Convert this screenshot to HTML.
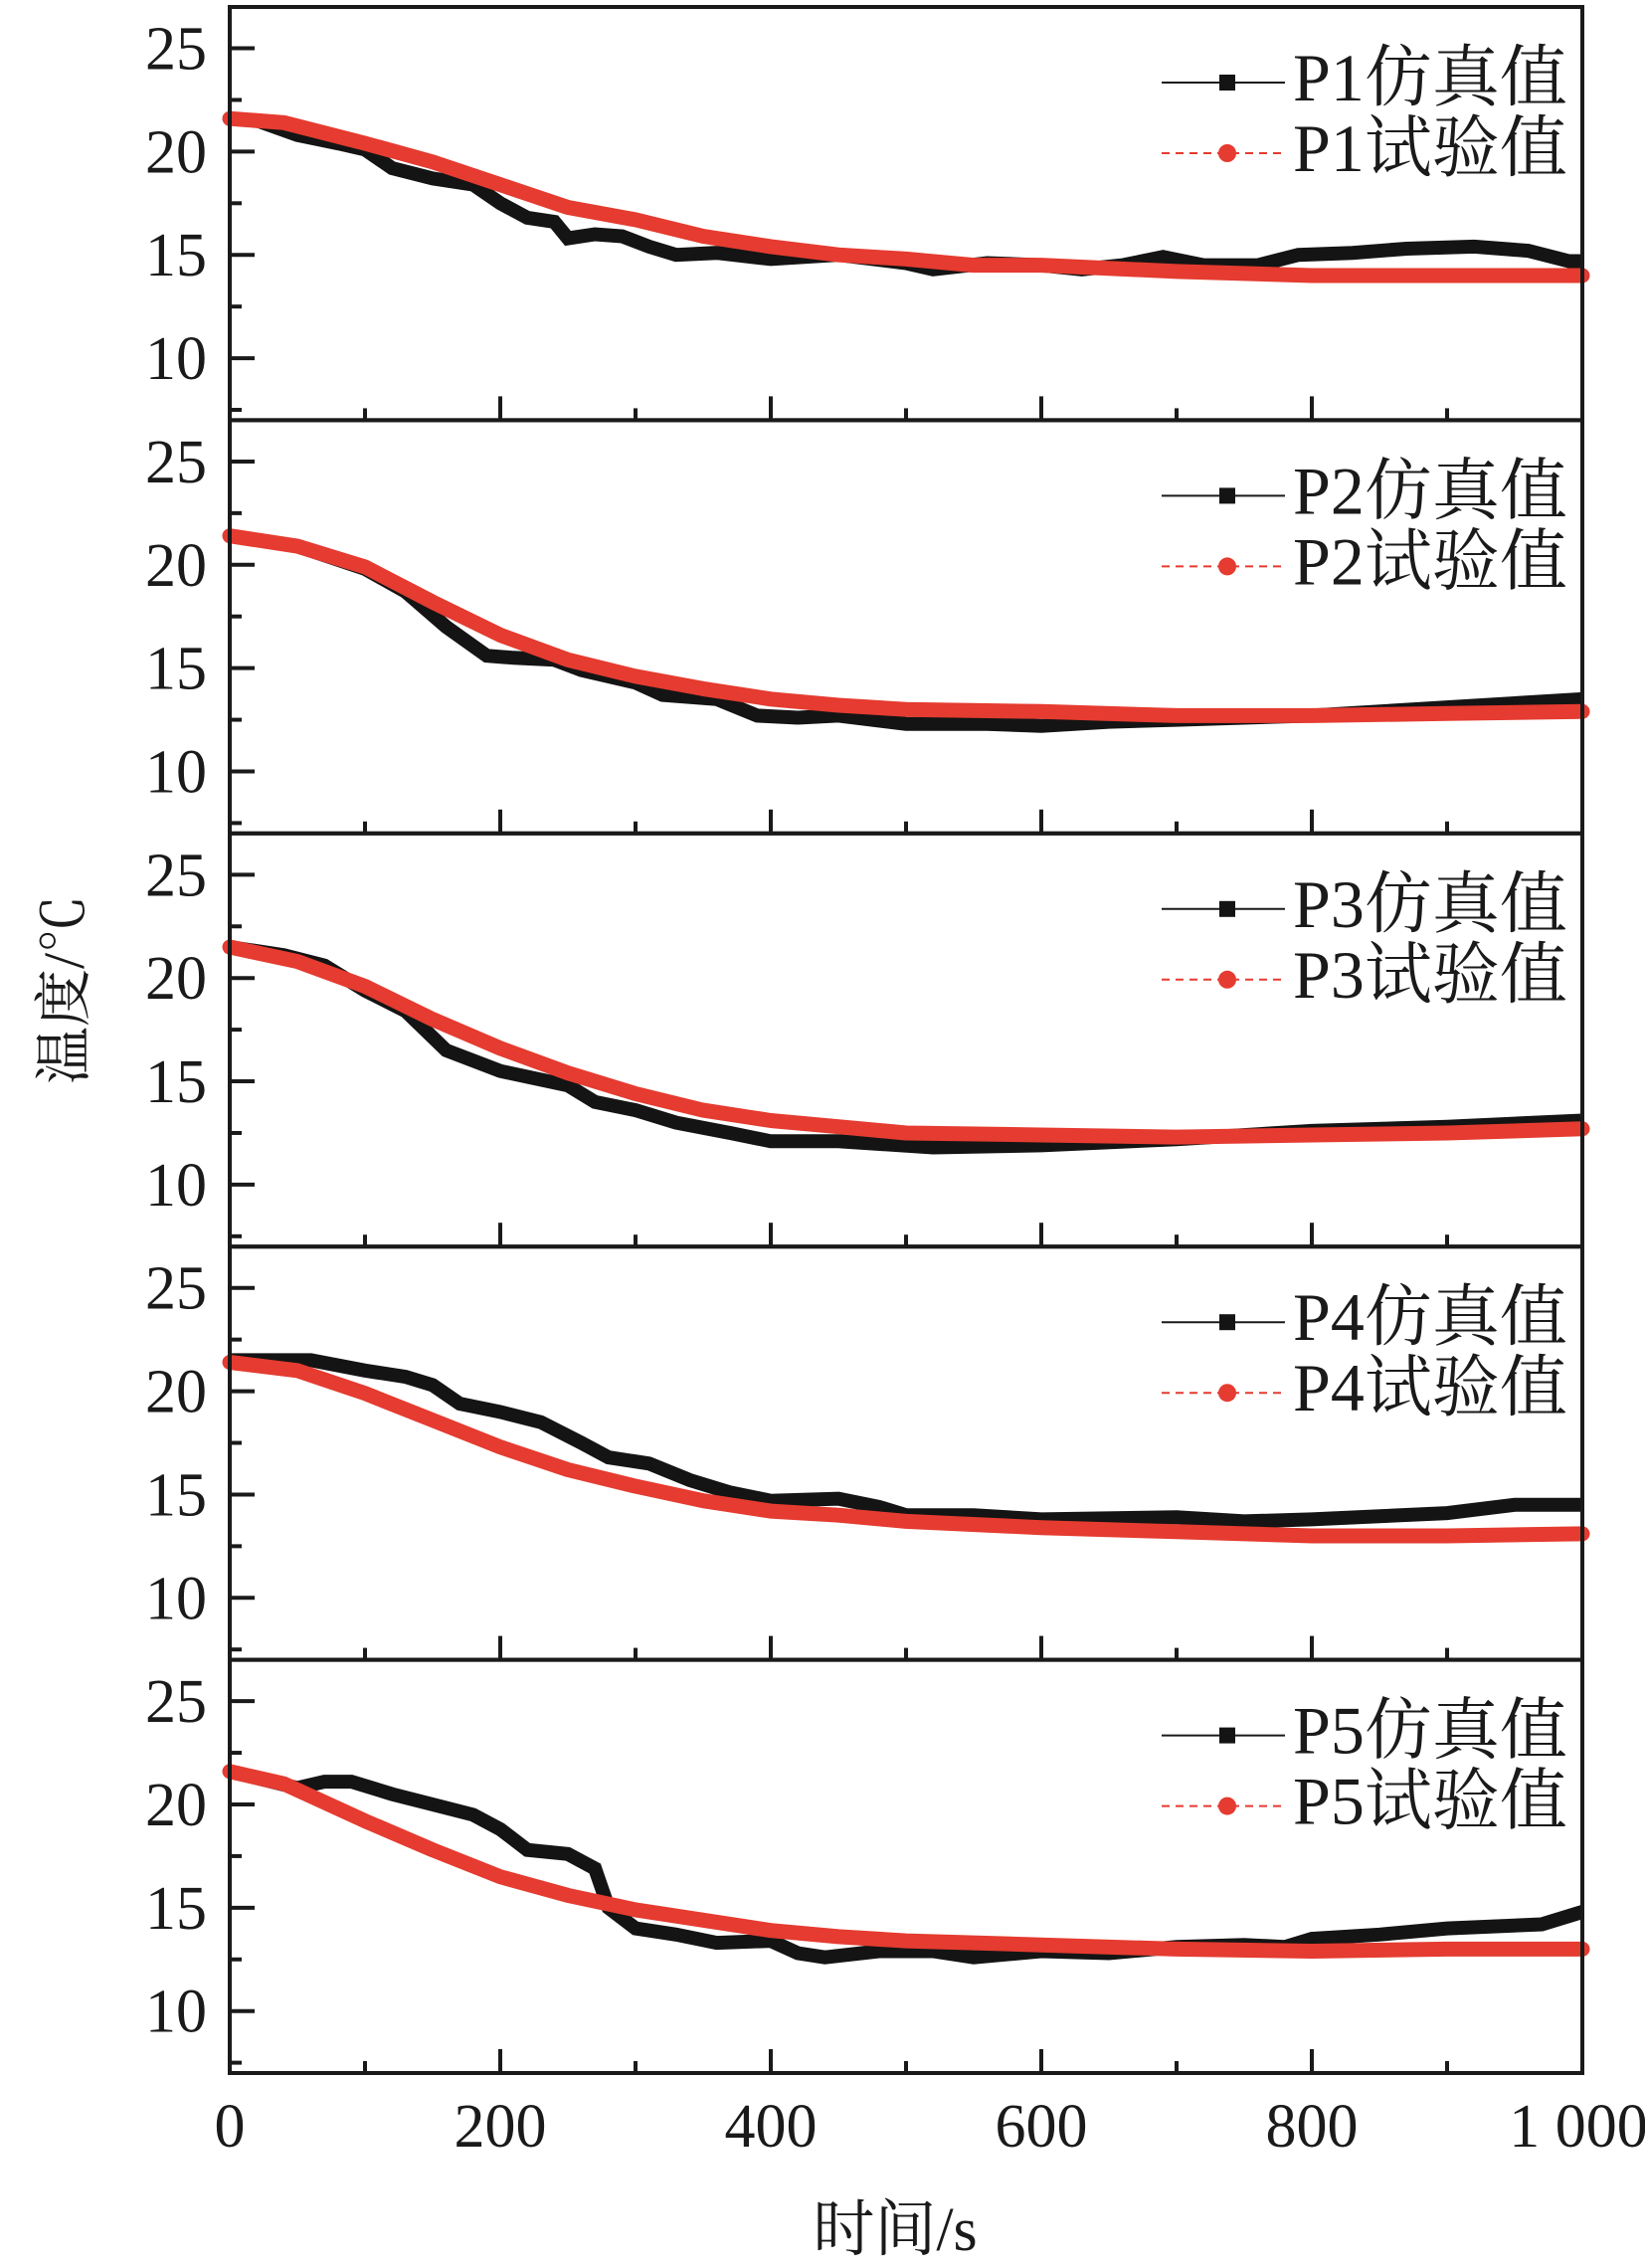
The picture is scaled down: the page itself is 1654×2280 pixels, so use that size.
<!DOCTYPE html>
<html><head><meta charset="utf-8"><style>
html,body{margin:0;padding:0;background:#fff;}
svg{display:block;}
text{font-family:"Liberation Serif","Noto Serif CJK SC",serif;fill:#1a1a1a;}
</style></head><body>
<svg id="chart" width="1654" height="2280" viewBox="0 0 1654 2280" xmlns="http://www.w3.org/2000/svg"></svg>
<script>
const panelNames = ["P1","P2","P3","P4","P5"];
const xTickLabels = ["0","200","400","600","800","1 000"];
const xTicks = [0,200,400,600,800,1000];
const yTicks = [10,15,20,25];
const simT1 = [0,20,50,80,100,120,150,180,200,220,240,250,270,290,310,330,360,400,450,500,520,560,600,630,660,690,720,760,790,830,870,920,960,990,1000];
const simV1 = [21.6,21.5,20.8,20.4,20.1,19.2,18.7,18.4,17.5,16.8,16.6,15.8,16.0,15.9,15.4,15.0,15.1,14.8,15.0,14.6,14.3,14.6,14.5,14.3,14.5,14.9,14.5,14.5,15.0,15.1,15.3,15.4,15.2,14.7,14.7];
const expT1 = [0,40,100,150,200,250,300,350,400,450,500,550,600,700,800,900,1000];
const expV1 = [21.6,21.4,20.4,19.5,18.4,17.3,16.7,15.9,15.4,15.0,14.8,14.5,14.5,14.2,14.0,14.0,14.0];
const simT2 = [0,50,100,130,160,190,210,240,260,300,320,360,390,420,450,500,560,600,650,700,800,900,1000];
const simV2 = [21.4,20.9,19.8,18.7,17.0,15.6,15.5,15.4,14.9,14.3,13.7,13.5,12.7,12.6,12.7,12.3,12.3,12.2,12.4,12.5,12.7,13.1,13.5];
const expT2 = [0,50,100,150,200,250,300,350,400,450,500,600,700,800,900,1000];
const expV2 = [21.4,20.9,19.9,18.2,16.6,15.4,14.6,14.0,13.5,13.2,13.0,12.9,12.7,12.7,12.8,12.9];
const simT3 = [0,40,70,100,130,160,200,250,270,300,330,370,400,450,520,600,700,800,900,1000];
const simV3 = [21.5,21.1,20.6,19.4,18.4,16.5,15.5,14.8,14.0,13.6,13.0,12.5,12.1,12.1,11.8,11.9,12.2,12.6,12.8,13.1];
const expT3 = [0,50,100,150,200,250,300,350,400,450,500,600,700,800,900,1000];
const expV3 = [21.5,20.8,19.6,18.0,16.6,15.4,14.4,13.6,13.1,12.8,12.5,12.4,12.3,12.4,12.5,12.7];
const simT4 = [0,60,100,130,150,170,200,230,260,280,310,340,370,400,450,480,500,550,600,700,750,800,900,950,1000];
const simV4 = [21.5,21.5,21.0,20.7,20.3,19.4,19.0,18.5,17.5,16.8,16.5,15.7,15.1,14.7,14.8,14.4,14.0,14.0,13.8,13.9,13.7,13.8,14.1,14.5,14.5];
const expT4 = [0,50,100,150,200,250,300,350,400,450,500,600,700,800,900,1000];
const expV4 = [21.4,21.0,19.9,18.6,17.3,16.2,15.4,14.7,14.2,14.0,13.7,13.4,13.2,13.0,13.0,13.1];
const simT5 = [0,50,70,90,120,150,180,200,220,250,270,280,300,330,360,400,420,440,480,520,550,600,650,700,750,780,800,850,900,970,1000];
const simV5 = [21.6,20.8,21.1,21.1,20.5,20.0,19.5,18.8,17.8,17.6,16.9,15.0,14.0,13.7,13.3,13.4,12.8,12.6,12.9,12.9,12.6,12.9,12.8,13.1,13.2,13.1,13.5,13.7,14.0,14.2,14.8];
const expT5 = [0,40,100,150,200,250,300,350,400,450,500,600,700,800,900,1000];
const expV5 = [21.6,21.0,19.2,17.8,16.5,15.6,14.9,14.4,13.9,13.6,13.4,13.2,13.0,12.9,13.0,13.0];

const simT=[simT1,simT2,simT3,simT4,simT5], simV=[simV1,simV2,simV3,simV4,simV5];
const expT=[expT1,expT2,expT3,expT4,expT5], expV=[expV1,expV2,expV3,expV4,expV5];

const NS="http://www.w3.org/2000/svg";
const svg=document.getElementById('chart');
const X0=231,X1=1591,TOP=7,PH=415.4,YMIN=7,YMAX=27;
const xs=v=>X0+(v/1000)*(X1-X0);
function ys(i,v){return TOP+i*PH+(YMAX-v)/(YMAX-YMIN)*PH;}
function mk(tag,at,parent){const e=document.createElementNS(NS,tag);for(const k in at)e.setAttribute(k,at[k]);(parent||svg).appendChild(e);return e;}

for(let i=0;i<5;i++){
  const g=mk('g',{});
  
  
  const top=TOP+i*PH,bot=top+PH;
  let pts=simT[i].map((t,j)=>xs(t).toFixed(1)+','+ys(i,simV[i][j]).toFixed(1)).join(' ');
  const sl=mk('polyline',{points:pts,fill:'none',stroke:'#141414','stroke-width':14,'stroke-linejoin':'miter','stroke-linecap':'butt'},g);
  
  
  pts=expT[i].map((t,j)=>xs(t).toFixed(1)+','+ys(i,expV[i][j]).toFixed(1)).join(' ');
  const el=mk('polyline',{points:pts,fill:'none',stroke:'#e53b30','stroke-width':15,'stroke-linejoin':'round','stroke-linecap':'round'},g);
  
  
  mk('rect',{x:X0,y:top,width:X1-X0,height:PH,fill:'none',stroke:'#1a1a1a','stroke-width':4},g);
  for(let v=7.5;v<=27;v+=2.5){
    const major=yTicks.includes(v);
    mk('line',{x1:X0,x2:X0+(major?25:12),y1:ys(i,v),y2:ys(i,v),stroke:'#1a1a1a','stroke-width':4},g);
  }
  yTicks.forEach(v=>{
    const t=mk('text',{x:208,y:ys(i,v)+21,'text-anchor':'end','font-size':62},g);
    t.textContent=String(v);
    
    
  });
  for(let v=100;v<1000;v+=100){
    const major=v%200===0;
    mk('line',{x1:xs(v),x2:xs(v),y1:bot,y2:bot-(major?24:12),stroke:'#1a1a1a','stroke-width':4},g);
  }
  const lg=mk('g',{},g);
  
  
  const ly1=top+76,ly2=top+147;
  mk('line',{x1:1168,x2:1292,y1:ly1,y2:ly1,stroke:'#1a1a1a','stroke-width':2},lg);
  mk('rect',{x:1226,y:ly1-8,width:16,height:16,fill:'#141414'},lg);
  mk('line',{x1:1168,x2:1292,y1:ly2,y2:ly2,stroke:'#e53b30','stroke-width':2,'stroke-dasharray':'8 6'},lg);
  mk('circle',{cx:1234,cy:ly2,r:9,fill:'#e53b30'},lg);
  const t1=mk('text',{x:1300,y:ly1+18,'font-size':68},lg);t1.textContent=panelNames[i]+'仿真值';
  
  
  const t2=mk('text',{x:1300,y:ly2+18,'font-size':68},lg);t2.textContent=panelNames[i]+'试验值';
  
  
}
xTicks.forEach((v,k)=>{
  const t=mk('text',{x:xs(v)+(v===1000?-4:0),y:2158,'text-anchor':'middle','font-size':62});
  t.textContent=xTickLabels[k];
  
  
});
const xl=mk('text',{x:900,y:2262,'text-anchor':'middle','font-size':62});
xl.textContent='时间/s';


const yl=mk('text',{x:0,y:0,'text-anchor':'middle','font-size':58,transform:'translate(84,995) rotate(-90)'});
yl.textContent='温度/℃';


</script>
</body></html>
